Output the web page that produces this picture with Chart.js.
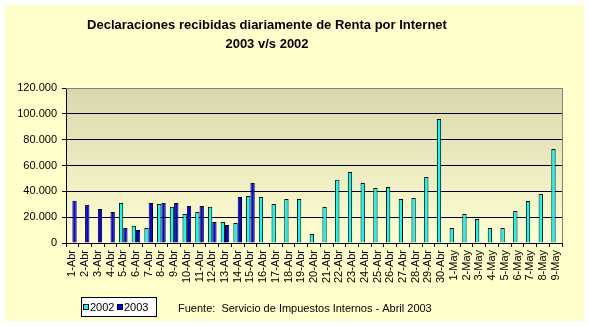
<!DOCTYPE html>
<html>
<head>
<meta charset="utf-8">
<script src="https://cdn.jsdelivr.net/npm/chart.js@4/dist/chart.umd.min.js"></script>
<style>
  html, body { margin: 0; padding: 0; background: #fff; }
  canvas { display: block; }
</style>
</head>
<body>
<canvas id="chart" width="589" height="326"></canvas>
<script>
// Declaraciones recibidas diariamente de Renta por Internet, 2003 v/s 2002

const DAYS = [
  '1-Abr', '2-Abr', '3-Abr', '4-Abr', '5-Abr', '6-Abr', '7-Abr', '8-Abr', '9-Abr', '10-Abr',
  '11-Abr', '12-Abr', '13-Abr', '14-Abr', '15-Abr', '16-Abr', '17-Abr', '18-Abr', '19-Abr', '20-Abr',
  '21-Abr', '22-Abr', '23-Abr', '24-Abr', '25-Abr', '26-Abr', '27-Abr', '28-Abr', '29-Abr', '30-Abr',
  '1-May', '2-May', '3-May', '4-May', '5-May', '6-May', '7-May', '8-May', '9-May',
];

const Y2002 = [
  null, null, null, null, 31000, 13400, 11600, 30200, 28100, 22500,
  24000, 28100, 16300, 15500, 36400, 35600, 30200, 34100, 34100, 7000,
  27900, 49000, 55000, 46500, 42600, 43400, 34100, 34800, 51100, 96000,
  11600, 22500, 18600, 11600, 11600, 24800, 32500, 37900, 72800,
];

const Y2003 = [
  32800, 29700, 26300, 24000, 11600, 10100, 31000, 31000, 31000, 28600,
  28600, 16300, 13900, 35600, 46500, null, null, null, null, null,
  null, null, null, null, null, null, null, null, null, null,
  null, null, null, null, null, null, null, null, null,
];

const Y_TICKS = [0, 20000, 40000, 60000, 80000, 100000, 120000];

const TITLE = ['Declaraciones recibidas diariamente de Renta por Internet', '2003 v/s 2002'];
const SOURCE = 'Fuente:  Servicio de Impuestos Internos - Abril 2003';

const FONT = '"Liberation Sans", Arial, sans-serif';
const CREAM = '#FFFFCC';

const fmt = v => String(v).replace(/\B(?=(\d{3})+(?!\d))/g, '.');

// background, plot gradient, frame, title, legend box and source line
const decor = {
  id: 'decor',
  beforeDraw(chart) {
    const { ctx, chartArea: a } = chart;
    ctx.save();
    ctx.fillStyle = '#fff';
    ctx.fillRect(0, 0, chart.width, chart.height);
    ctx.fillStyle = CREAM;
    ctx.fillRect(5, 5, 579, 316);
    const g = ctx.createLinearGradient(0, a.top, 0, a.bottom);
    g.addColorStop(0, '#D9D7AD');
    g.addColorStop(1, '#FFFFD2');
    ctx.fillStyle = g;
    ctx.fillRect(a.left, a.top, a.right - a.left, a.bottom - a.top);
    ctx.restore();
  },
  afterDraw(chart) {
    const { ctx, chartArea: a } = chart;
    ctx.save();
    // gray frame on top / right
    ctx.strokeStyle = '#808080';
    ctx.lineWidth = 1;
    ctx.beginPath();
    ctx.moveTo(a.left, a.top + 0.5);
    ctx.lineTo(a.right + 0.5, a.top + 0.5);
    ctx.lineTo(a.right + 0.5, a.bottom);
    ctx.stroke();

    // title
    ctx.fillStyle = '#000';
    ctx.textAlign = 'center';
    ctx.textBaseline = 'alphabetic';
    ctx.font = 'bold 13px ' + FONT;
    ctx.fillText(TITLE[0], 267, 29);
    ctx.fillText(TITLE[1], 267, 48);

    // legend
    ctx.fillStyle = '#fff';
    ctx.fillRect(81, 297, 76, 20);
    ctx.strokeStyle = '#000';
    ctx.strokeRect(81.5, 297.5, 75, 19);
    ctx.font = '11px ' + FONT;
    ctx.textAlign = 'left';
    let x = 83;
    chart.data.datasets.forEach(ds => {
      ctx.fillStyle = ds.backgroundColor;
      ctx.fillRect(x, 304, 6, 6);
      ctx.strokeStyle = '#000';
      ctx.strokeRect(x + 0.5, 304.5, 5, 5);
      ctx.fillStyle = '#000';
      ctx.fillText(ds.label, x + 7, 311);
      x += 34;
    });

    // source
    ctx.fillText(SOURCE, 178, 312);
    ctx.restore();
  },
};

new Chart(document.getElementById('chart'), {
  type: 'bar',
  data: {
    labels: DAYS,
    datasets: [
      {
        label:           '2002',
        data:            Y2002,
        backgroundColor: '#00FFFF',
        borderColor:     '#000',
        borderWidth:     1,
      },
      {
        label:           '2003',
        data:            Y2003,
        backgroundColor: '#0000FF',
        borderColor:     '#000',
        borderWidth:     1,
      },
    ],
  },
  options: {
    responsive:         false,
    animation:          false,
    devicePixelRatio:   1,
    categoryPercentage: 0.68,
    barPercentage:      1,
    layout: { padding: { top: 88, right: 27, bottom: 33, left: 0 } },
    plugins: {
      legend:  { display: false },
      title:   { display: false },
      tooltip: { enabled: false },
    },
    scales: {
      x: {
        offset: true,
        grid:   { offset: true, drawOnChartArea: false, color: '#000', tickLength: 4 },
        border: { color: '#000' },
        ticks:  {
          autoSkip: false, minRotation: 90, maxRotation: 90, padding: 3,
          color: '#000', font: { family: FONT, size: 11 },
        },
        afterFit: s => { s.height = 50; },
      },
      y: {
        min: 0,
        max: 120000,
        afterBuildTicks: s => { s.ticks = Y_TICKS.map(v => ({ value: v })); },
        grid: {
          color:     c => (c.tick && c.tick.value === 120000 ? '#808080' : '#000'),
          tickColor: '#000',
          tickLength: 4,
        },
        border: { color: '#000' },
        ticks:  {
          padding: 5, color: '#000', font: { family: FONT, size: 11 },
          callback: v => fmt(v),
        },
        afterFit: s => { s.width = 66; },
      },
    },
  },
  plugins: [decor],
});
</script>
</body>
</html>
